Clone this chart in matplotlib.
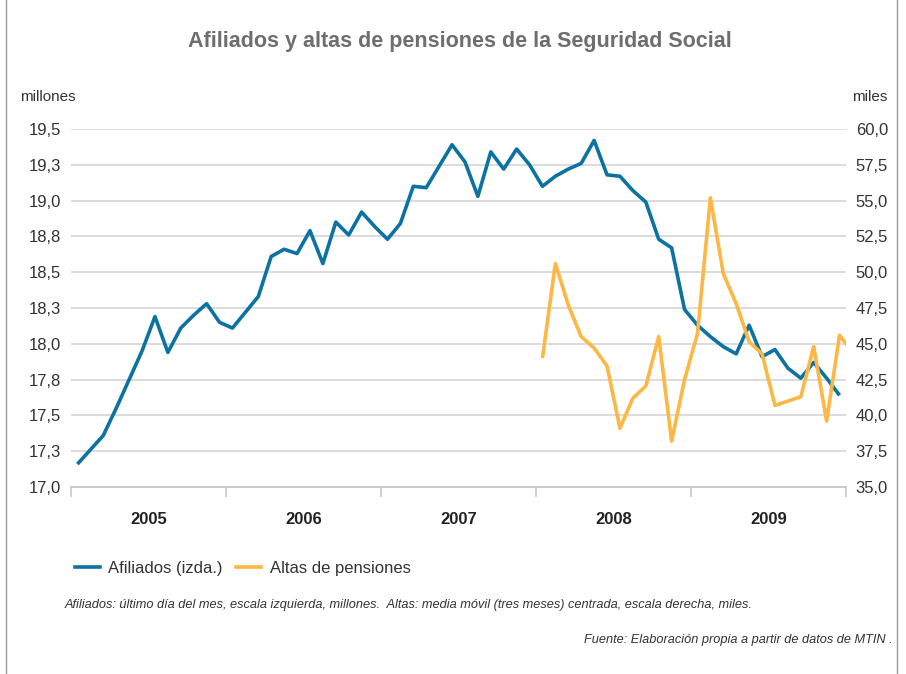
# Afiliados y altas de pensiones de la Seguridad Social

import numpy as np
import matplotlib
matplotlib.use('Agg')
import matplotlib.pyplot as plt
from matplotlib.lines import Line2D

plt.rcParams['font.family'] = ['Liberation Sans', 'DejaVu Sans']

# Data (monthly, Jan 2005 - Dec 2009)
years = ['2005', '2006', '2007', '2008', '2009']

# afiliados, millones, ultimo dia del mes
afiliados = [17.16, 17.26, 17.36, 17.55, 17.75, 17.95, 18.19, 17.94, 18.11, 18.20, 18.28, 18.15,
             18.11, 18.22, 18.33, 18.61, 18.66, 18.63, 18.79, 18.56, 18.85, 18.76, 18.92, 18.82,
             18.73, 18.84, 19.10, 19.09, 19.24, 19.39, 19.27, 19.03, 19.34, 19.22, 19.36, 19.25,
             19.10, 19.17, 19.22, 19.26, 19.42, 19.18, 19.17, 19.07, 18.99, 18.73, 18.67, 18.24,
             18.13, 18.05, 17.98, 17.93, 18.13, 17.91, 17.96, 17.83, 17.76, 17.87, 17.76, 17.64]

# altas de pensiones, miles, media movil centrada (from Jan 2008)
altas_start = 36
altas = [44.0, 50.6, 47.7, 45.5, 44.7, 43.45, 39.1, 41.2, 42.05, 45.5, 38.2, 42.5,
         45.7, 55.2, 49.9, 47.8, 45.15, 44.3, 40.7, 41.0, 41.3, 44.8, 39.6, 45.6,
         44.4]

left_ticks = [17.0, 17.25, 17.5, 17.75, 18.0, 18.25, 18.5, 18.75, 19.0, 19.25, 19.5]
left_labels = ['17,0', '17,3', '17,5', '17,8', '18,0', '18,3', '18,5', '18,8', '19,0', '19,3', '19,5']
right_ticks = [35.0, 37.5, 40.0, 42.5, 45.0, 47.5, 50.0, 52.5, 55.0, 57.5, 60.0]
right_labels = ['35,0', '37,5', '40,0', '42,5', '45,0', '47,5', '50,0', '52,5', '55,0', '57,5', '60,0']

blue = '#0b72a2'
yellow = '#fdb744'
grid_color = '#d9d9d9'
text_color = '#333333'

W, H = 906, 674
fig = plt.figure(figsize=(W / 100, H / 100), dpi=100)
ax = fig.add_axes([71 / W, 1 - 487 / H, (846 - 71) / W, (487 - 129) / H])

# month positions (centre of each month)
x_afil = np.arange(len(afiliados)) + 0.5
x_altas = np.arange(len(altas)) + altas_start + 0.5

ax.plot(x_afil, afiliados, color=blue, lw=2.6, solid_capstyle='butt', zorder=3)
ax.set_xlim(0, 60)
ax.set_ylim(17.0, 19.5)

ax2 = ax.twinx()
ax2.plot(x_altas, altas, color=yellow, lw=2.6, solid_capstyle='butt', zorder=3)
ax2.set_ylim(35.0, 60.0)

# y axes
ax.set_yticks(left_ticks)
ax.set_yticklabels(left_labels)
ax.grid(axis='y', color=grid_color, lw=1.3)
ax.set_axisbelow(True)
ax.tick_params(axis='y', length=0, pad=7, labelsize=12, labelcolor=text_color)

ax2.set_yticks(right_ticks)
ax2.set_yticklabels(right_labels)
ax2.tick_params(axis='y', length=0, pad=7, labelsize=12, labelcolor=text_color)

# x axis: year boundaries as ticks, year names in between
ax.set_xticks(np.arange(0, 61, 12))
ax.set_xticklabels([])
ax.set_xticks(np.arange(6, 60, 12), minor=True)
ax.set_xticklabels(years, minor=True, fontsize=12, fontweight='bold', color='#222222')
ax.tick_params(axis='x', which='major', length=7, width=1.2, color='#c8c8c8')
ax.tick_params(axis='x', which='minor', length=0, pad=18)

for s in ['top', 'left', 'right']:
    ax.spines[s].set_visible(False)
    ax2.spines[s].set_visible(False)
ax2.spines['bottom'].set_visible(False)
ax.spines['bottom'].set_color('#c8c8c8')
ax.spines['bottom'].set_linewidth(1.3)

# Titles and units
fig.text(460 / W, 1 - 42 / H, 'Afiliados y altas de pensiones de la Seguridad Social',
         ha='center', va='center', fontsize=15.5, fontweight='bold', color='#6e6e6e')
fig.text(20 / W, 1 - 97 / H, 'millones', ha='left', va='center', fontsize=11, color=text_color)
fig.text(887 / W, 1 - 97 / H, 'miles', ha='right', va='center', fontsize=11, color=text_color)

# Legend
handles = [Line2D([], [], color=blue, lw=2.6), Line2D([], [], color=yellow, lw=2.6)]
fig.legend(handles, ['Afiliados (izda.)', 'Altas de pensiones'], loc='center left',
           bbox_to_anchor=(75 / W, 1 - 568 / H), ncol=2, frameon=False, fontsize=12,
           handlelength=1.5, handletextpad=0.5, columnspacing=0.8, borderpad=0,
           borderaxespad=0, labelcolor=text_color)

# Notes
fig.text(65 / W, 1 - 605 / H,
         'Afiliados: último día del mes, escala izquierda, millones.  '
         'Altas: media móvil (tres meses) centrada, escala derecha, miles.',
         ha='left', va='center', fontsize=9.2, style='italic', color=text_color)
fig.text(893 / W, 1 - 640 / H, 'Fuente: Elaboración propia a partir de datos de MTIN .',
         ha='right', va='center', fontsize=9.2, style='italic', color=text_color)

# Frame lines
fig.add_artist(Line2D([6 / W, 6 / W], [0, 1], transform=fig.transFigure, color='#9a9a9a', lw=1))
fig.add_artist(Line2D([897 / W, 897 / W], [0, 1], transform=fig.transFigure, color='#9a9a9a', lw=1))

fig.savefig('out.png', dpi=100)
